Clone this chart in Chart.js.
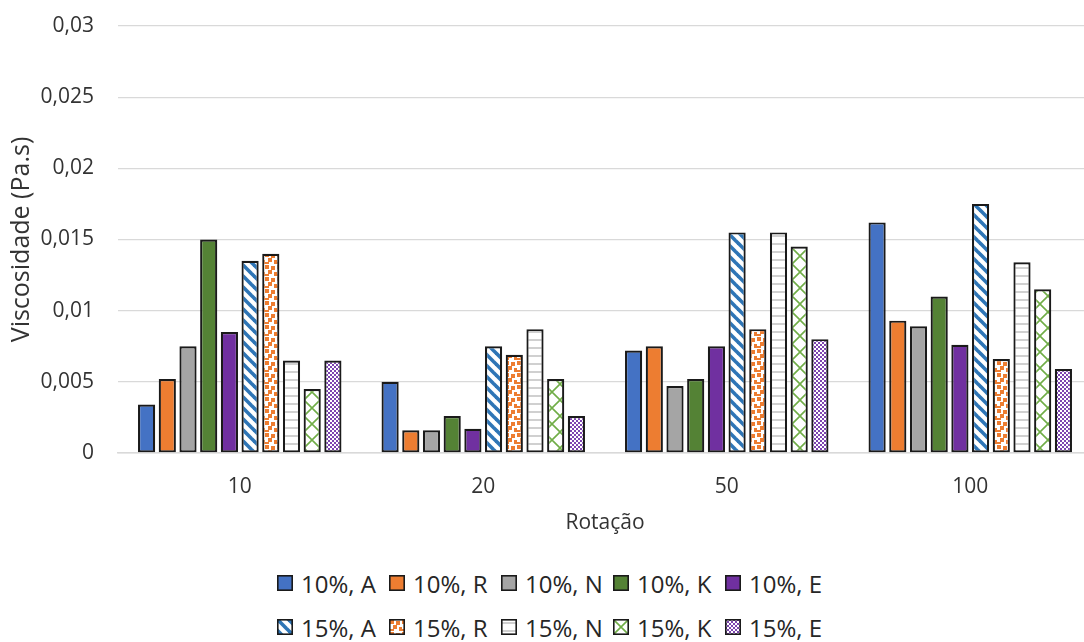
<!DOCTYPE html>
<html>
<head>
<meta charset="utf-8">
<script src="https://cdn.jsdelivr.net/npm/chart.js@4.4.1/dist/chart.umd.min.js"></script>
<style>
    html, body { margin: 0; padding: 0; background: #fff; overflow: hidden; width: 1084px; height: 642px; }
    #wrap { position: absolute; left: 0; top: 0; width: 1100px; height: 550px; }
    #legend { position: absolute; left: 0; top: 550px; width: 1084px; height: 92px;
              font-family: 'Open Sans', sans-serif; font-size: 24px; color: #262626; }
    .row { position: absolute; left: 277px; display: flex; align-items: center; height: 30px; }
    .item { display: flex; align-items: center; width: 112px; white-space: nowrap; }
    .item:last-child { width: auto; }
    .item canvas { width: 16px; height: 16px; margin-right: 8px; }
</style>
</head>
<body>
<div id="wrap"><canvas id="chartViscosity"></canvas></div>
<div id="legend"></div>
<script>
    const categories = ['10', '20', '50', '100'];
    const yTickLabels = ['0', '0,005', '0,01', '0,015', '0,02', '0,025', '0,03'];

    const a10 = [0.0034, 0.0050, 0.0072, 0.0162];
    const r10 = [0.0052, 0.0016, 0.0075, 0.0093];
    const n10 = [0.0075, 0.0016, 0.0047, 0.0089];
    const k10 = [0.0150, 0.0026, 0.0052, 0.0110];
    const e10 = [0.0085, 0.0017, 0.0075, 0.0076];
    const a15 = [0.0135, 0.0075, 0.0155, 0.0175];
    const r15 = [0.0140, 0.0069, 0.0087, 0.0066];
    const n15 = [0.0065, 0.0087, 0.0155, 0.0134];
    const k15 = [0.0045, 0.0052, 0.0145, 0.0115];
    const e15 = [0.0065, 0.0026, 0.0080, 0.0059];

    const seriesNames = ['10%, A', '10%, R', '10%, N', '10%, K', '10%, E',
                         '15%, A', '15%, R', '15%, N', '15%, K', '15%, E'];
    const seriesData = [a10, r10, n10, k10, e10, a15, r15, n15, k15, e15];

    const palette = {
        blue: '#4472C4',
        orange: '#ED7D31',
        gray: '#A5A5A5',
        green: '#548235',
        purple: '#7030A0',
        stripe: '#2E75B6',
        lightGreen: '#70AD47',
        lines: '#D0D0D0',
        border: '#1a1a1a',
    };

    function tile(size, draw) {
        const c = document.createElement('canvas');
        c.width = size;
        c.height = size;
        const ctx = c.getContext('2d');
        ctx.fillStyle = '#fff';
        ctx.fillRect(0, 0, size, size);
        draw(ctx, size);
        return c;
    }

    // excel-like pattern fills for the 15% series
    const tiles = {
        stripes: tile(11, function (ctx, s) {
            ctx.strokeStyle = palette.stripe;
            ctx.lineWidth = 3.6;
            [-s, 0, s].forEach(function (o) {
                ctx.beginPath();
                ctx.moveTo(o - 2, -2);
                ctx.lineTo(o + s + 2, s + 2);
                ctx.stroke();
            });
        }),
        confetti: tile(12, function (ctx) {
            ctx.fillStyle = palette.orange;
            [[1, 1], [7, 2], [4, 6], [10, 8], [1, 10]].forEach(function (p) {
                ctx.fillRect(p[0], p[1], 4, 4);
            });
            ctx.fillRect(0, 8, 1, 4);
        }),
        hlines: tile(8, function (ctx, s) {
            ctx.fillStyle = palette.lines;
            ctx.fillRect(0, 3, s, 2);
        }),
        trellis: tile(16, function (ctx, s) {
            ctx.strokeStyle = palette.lightGreen;
            ctx.lineWidth = 1.6;
            ctx.beginPath();
            ctx.moveTo(0, 0); ctx.lineTo(s, s);
            ctx.moveTo(s, 0); ctx.lineTo(0, s);
            ctx.stroke();
        }),
        checker: tile(4, function (ctx) {
            ctx.fillStyle = '#7d45b0';
            ctx.fillRect(0, 0, 2, 2);
            ctx.fillRect(2, 2, 2, 2);
        }),
    };

    function fillFor(ctx, i) {
        const solid = [palette.blue, palette.orange, palette.gray, palette.green, palette.purple];
        if (i < 5) return solid[i];
        const t = [tiles.stripes, tiles.confetti, tiles.hlines, tiles.trellis, tiles.checker][i - 5];
        return ctx.createPattern(t, 'repeat');
    }

    const canvas = document.getElementById('chartViscosity');
    const mainCtx = canvas.getContext('2d');
    const font = { family: "'Open Sans', sans-serif", size: 21 };
    const textColor = '#333333';

    new Chart(canvas, {
        type: 'bar',
        data: {
            labels: categories,
            datasets: seriesData.map(function (data, i) {
                return {
                    label: seriesNames[i],
                    data,
                    backgroundColor: fillFor(mainCtx, i),
                    borderColor: palette.border,
                    borderWidth: 2.2,
                    borderSkipped: false,
                    categoryPercentage: 0.85,
                    barPercentage: 0.83,
                };
            }),
        },
        options: {
            responsive: true,
            maintainAspectRatio: false,
            animation: false,
            layout: { padding: { top: 26, right: 8, bottom: 0, left: 0 } },
            plugins: { legend: { display: false }, tooltip: { enabled: false } },
            scales: {
                x: {
                    grid: { display: false, drawTicks: false },
                    border: { display: true, color: '#d9d9d9', width: 1.5 },
                    ticks: { font, color: textColor, padding: 21 },
                    title: { display: true, text: 'Rotação', font, color: textColor, padding: { top: 17, bottom: 14 } },
                    afterFit(scale) { scale.height = 97; },
                },
                y: {
                    min: 0,
                    max: 0.03,
                    ticks: {
                        stepSize: 0.005,
                        font,
                        color: textColor,
                        padding: 0,
                        callback: function (v, i) { return yTickLabels[i]; },
                    },
                    // invisible tick marks keep the labels away from the plot
                    grid: { color: '#d9d9d9', lineWidth: 1.3, drawTicks: true, tickLength: 24, tickColor: 'rgba(0,0,0,0)' },
                    border: { display: false },
                    title: {
                        display: true,
                        text: 'Viscosidade (Pa.s)',
                        font: { family: font.family, size: 25 },
                        color: textColor,
                        padding: { top: 7, bottom: 0 },
                    },
                    afterFit(scale) { scale.width = 118; },
                },
            },
        },
    });

    // two-row legend like the original
    const legend = document.getElementById('legend');
    [[0, 5, 18], [5, 10, 62]].forEach(function ([from, to, top]) {
        const row = document.createElement('div');
        row.className = 'row';
        row.style.top = top + 'px';
        for (let i = from; i < to; i++) {
            const item = document.createElement('div');
            item.className = 'item';
            const sw = document.createElement('canvas');
            sw.width = 16;
            sw.height = 16;
            const sctx = sw.getContext('2d');
            sctx.fillStyle = fillFor(sctx, i);
            sctx.fillRect(0, 0, 16, 16);
            sctx.strokeStyle = palette.border;
            sctx.lineWidth = 1.6;
            sctx.strokeRect(0.8, 0.8, 14.4, 14.4);
            const label = document.createElement('span');
            label.textContent = seriesNames[i];
            item.appendChild(sw);
            item.appendChild(label);
            row.appendChild(item);
        }
        legend.appendChild(row);
    });
</script>
</body>
</html>
